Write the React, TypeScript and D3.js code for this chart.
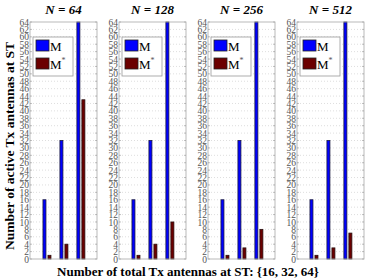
import React, { useEffect, useRef } from "react";
import * as d3 from "d3";

// total Tx antennas at ST (x categories)
const categories = ["16", "32", "64"];
const panelNs = ["64", "128", "256", "512"];

// M (blue) and M* (dark red) per panel
const mN64 = [16, 32, 64];
const mStarN64 = [1, 4, 43];
const mN128 = [16, 32, 64];
const mStarN128 = [1, 4, 10];
const mN256 = [16, 32, 64];
const mStarN256 = [1, 3, 8];
const mN512 = [16, 32, 64];
const mStarN512 = [1, 3, 7];

const yTicks = [0, 2, 4, 6, 8, 10, 12, 14, 16, 18, 20, 22, 24, 26, 28, 30, 32,
  34, 36, 38, 40, 42, 44, 46, 48, 50, 52, 54, 56, 58, 60, 62, 64];

const W = 372, H = 279;
const serif = "'Liberation Serif', 'Times New Roman', serif";

function App() {
  const ref = useRef<SVGSVGElement>(null);

  useEffect(() => {
    const svg = d3.select(ref.current);
    svg.selectAll("*").remove();

    const panels = [
      { n: panelNs[0], m: mN64, ms: mStarN64 },
      { n: panelNs[1], m: mN128, ms: mStarN128 },
      { n: panelNs[2], m: mN256, ms: mStarN256 },
      { n: panelNs[3], m: mN512, ms: mStarN512 },
    ];

    const top = 22, bottom = 259, pw = 67;
    const y = d3.scaleLinear().domain([0, 64]).range([bottom, top]);
    const x = d3.scaleLinear().domain([0, 3.95]).range([0, pw]);

    panels.forEach((p, i) => {
      const left = 30 + i * 89;
      const g = svg.append("g").attr("transform", `translate(${left},0)`);

      // grid
      g.selectAll(".grid")
        .data(yTicks.slice(1, -1))
        .enter().append("line")
        .attr("x1", 0).attr("x2", pw)
        .attr("y1", d => y(d)).attr("y2", d => y(d))
        .attr("stroke", "#c8c8c8").attr("stroke-width", 0.6)
        .attr("stroke-dasharray", "1,2");

      // inner ticks left and right
      yTicks.forEach(t => {
        g.append("line").attr("x1", 0).attr("x2", 2).attr("y1", y(t)).attr("y2", y(t))
          .attr("stroke", "#999").attr("stroke-width", 0.6);
        g.append("line").attr("x1", pw - 2).attr("x2", pw).attr("y1", y(t)).attr("y2", y(t))
          .attr("stroke", "#999").attr("stroke-width", 0.6);
      });

      // y axis labels
      const ax = g.append("g").call(
        d3.axisLeft(y).tickValues(yTicks).tickSize(0).tickPadding(1).tickFormat(d3.format("d"))
      );
      ax.select(".domain").remove();
      ax.selectAll("text")
        .attr("font-family", serif).attr("font-size", 9.5).attr("fill", "#555");

      // bars
      categories.forEach((c, k) => {
        const cx = x(k + 1);
        g.append("rect")
          .attr("x", cx - 4).attr("width", 3)
          .attr("y", y(p.m[k])).attr("height", bottom - y(p.m[k]))
          .attr("fill", "#0000ff").attr("stroke", "#1a1a40").attr("stroke-width", 0.8);
        g.append("rect")
          .attr("x", cx + 1).attr("width", 3)
          .attr("y", y(p.ms[k])).attr("height", bottom - y(p.ms[k]))
          .attr("fill", "#6b0000").attr("stroke", "#2a1010").attr("stroke-width", 0.8);
      });

      // frame
      g.append("rect").attr("x", 0).attr("y", top).attr("width", pw).attr("height", bottom - top)
        .attr("fill", "none").attr("stroke", "#a8a8a8").attr("stroke-width", 0.8);

      // legend
      const lg = g.append("g").attr("transform", "translate(3,37)");
      lg.append("rect").attr("width", 40).attr("height", 39)
        .attr("fill", "#fff").attr("stroke", "#999").attr("stroke-width", 0.8);
      lg.append("rect").attr("x", 3).attr("y", 3).attr("width", 13).attr("height", 11)
        .attr("fill", "#0000ff").attr("stroke", "#222").attr("stroke-width", 0.8);
      lg.append("rect").attr("x", 3).attr("y", 21).attr("width", 13).attr("height", 11)
        .attr("fill", "#6b0000").attr("stroke", "#222").attr("stroke-width", 0.8);
      lg.append("text").attr("x", 17).attr("y", 13.5)
        .attr("font-family", serif).attr("font-size", 13).text("M");
      const t2 = lg.append("text").attr("x", 17).attr("y", 31.5)
        .attr("font-family", serif).attr("font-size", 13);
      t2.append("tspan").text("M");
      t2.append("tspan").attr("font-size", 8).attr("dy", -6).attr("fill", "#555").text("*");

      // title
      svg.append("text").attr("x", left + pw / 2).attr("y", 14)
        .attr("text-anchor", "middle").attr("font-family", serif)
        .attr("font-weight", "bold").attr("font-style", "italic").attr("font-size", 13)
        .text(`N = ${p.n}`);
    });

    svg.append("text")
      .attr("transform", "translate(14,146) rotate(-90)")
      .attr("text-anchor", "middle").attr("font-family", serif)
      .attr("font-weight", "bold").attr("font-size", 13.5)
      .text("Number of active Tx antennas at ST");

    svg.append("text")
      .attr("x", 188).attr("y", 276)
      .attr("text-anchor", "middle").attr("font-family", serif)
      .attr("font-weight", "bold").attr("font-size", 13)
      .text(`Number of total Tx antennas at ST: {${categories.join(", ")}}`);
  }, []);

  return (
    <svg ref={ref} width={W} height={H}
      style={{ position: "absolute", left: 0, top: 0, background: "#fff" }} />
  );
}

export default App;
